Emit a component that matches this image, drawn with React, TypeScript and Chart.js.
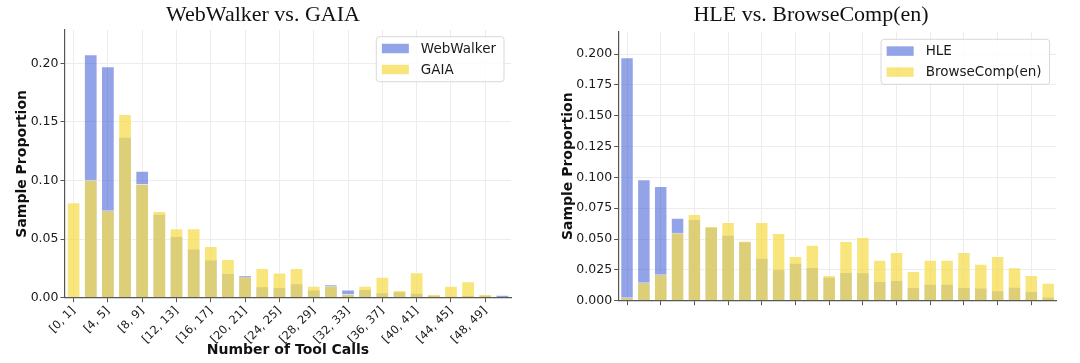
import React, { useEffect, useRef } from 'react';
import { Chart, registerables } from 'chart.js';

Chart.register(...registerables);
Chart.defaults.font.family = "'DejaVu Sans', sans-serif";

// ---- data ----
const binLabels = [
  '[0, 1]', '[2, 3]', '[4, 5]', '[6, 7]', '[8, 9]', '[10, 11]', '[12, 13]', '[14, 15]',
  '[16, 17]', '[18, 19]', '[20, 21]', '[22, 23]', '[24, 25]', '[26, 27]', '[28, 29]',
  '[30, 31]', '[32, 33]', '[34, 35]', '[36, 37]', '[38, 39]', '[40, 41]', '[42, 43]',
  '[44, 45]', '[46, 47]', '[48, 49]', '[50, 51]',
];

const webWalker = [
  0.0, 0.2077, 0.1975, 0.1374, 0.1084, 0.0717, 0.0527, 0.0421, 0.0327, 0.0211,
  0.0194, 0.0097, 0.0091, 0.0123, 0.0071, 0.0114, 0.0071, 0.0074, 0.0046, 0.0055,
  0.0043, 0.0026, 0.0014, 0.0023, 0.0025, 0.0026,
];
const gaia = [
  0.0814, 0.1007, 0.0746, 0.1568, 0.097, 0.074, 0.0592, 0.0592, 0.0441, 0.033,
  0.0182, 0.0253, 0.0215, 0.0253, 0.0102, 0.0102, 0.0032, 0.0102, 0.0179, 0.0066,
  0.0217, 0.0032, 0.0102, 0.014, 0.0032, 0.0,
];

const hle = [
  0.1973, 0.0984, 0.093, 0.0673, 0.0662, 0.06, 0.0535, 0.0481, 0.0349, 0.026,
  0.0308, 0.0273, 0.0195, 0.0233, 0.023, 0.016, 0.0168, 0.0111, 0.0138, 0.0138,
  0.0111, 0.0108, 0.0084, 0.0114, 0.0079, 0.0035,
];
const browseComp = [
  0.0027, 0.0149, 0.0214, 0.0551, 0.0703, 0.0606, 0.0638, 0.0486, 0.0638, 0.0549,
  0.0362, 0.0454, 0.0208, 0.0484, 0.0516, 0.0332, 0.0395, 0.0241, 0.0332, 0.0332,
  0.0395, 0.03, 0.0362, 0.0271, 0.0208, 0.0146,
];

const BLUE = 'rgba(75,102,217,0.6)';
const YELLOW = 'rgba(246,222,82,0.75)';
const EDGE = 'rgba(255,255,255,0.7)';
const GRID = '#ececec';
const AXIS = '#555555';

const insideLegend = {
  id: 'insideLegend',
  afterDatasetsDraw(chart: any, _args: any, opts: any) {
    const { ctx, chartArea } = chart;
    ctx.save();
    ctx.font = '13.5px "DejaVu Sans"';
    const items = chart.data.datasets.map((d: any) => ({ label: d.label, color: d.backgroundColor }));
    const textW = Math.max(...items.map((i: any) => ctx.measureText(i.label).width));
    const padL = 5.6, sw = 27, swH = 9.5, gap = 12, padR = 8;
    const w = padL + sw + gap + textW + padR;
    const h = 45;
    const x = chartArea.right - opts.marginRight - w;
    const y = chartArea.top + opts.marginTop;
    const r = 3;
    ctx.beginPath();
    ctx.moveTo(x + r, y);
    ctx.lineTo(x + w - r, y);
    ctx.arcTo(x + w, y, x + w, y + r, r);
    ctx.lineTo(x + w, y + h - r);
    ctx.arcTo(x + w, y + h, x + w - r, y + h, r);
    ctx.lineTo(x + r, y + h);
    ctx.arcTo(x, y + h, x, y + h - r, r);
    ctx.lineTo(x, y + r);
    ctx.arcTo(x, y, x + r, y, r);
    ctx.closePath();
    ctx.fillStyle = 'rgba(255,255,255,0.85)';
    ctx.fill();
    ctx.strokeStyle = '#d8d8d8';
    ctx.lineWidth = 1;
    ctx.stroke();
    items.forEach((it: any, i: number) => {
      const cy = y + 11.8 + i * 21;
      ctx.fillStyle = it.color;
      ctx.fillRect(x + padL, cy - swH / 2, sw, swH);
      ctx.fillStyle = '#1a1a1a';
      ctx.textBaseline = 'middle';
      ctx.textAlign = 'left';
      ctx.fillText(it.label, x + padL + sw + gap, cy + 0.5);
    });
    ctx.restore();
  },
};

interface PanelSpec {
  title: string;
  nameA: string;
  nameB: string;
  a: number[];
  b: number[];
  labels: string[];
  showXLabels: boolean;
  showXTitle: boolean;
  yMax: number;
  step: number;
  dec: number;
  padL: number;
  padR: number;
  yW: number;
  xH: number;
  titleBottom: number;
  yTitleOffset: number;
  legendTop: number;
}

function makeConfig(p: PanelSpec): any {
  const barCommon = {
    borderColor: EDGE,
    borderWidth: 1,
    grouped: false,
    barPercentage: 0.8,
    categoryPercentage: 1.0,
  };
  return {
    type: 'bar',
    data: {
      labels: p.labels,
      datasets: [
        { label: p.nameA, data: p.a, backgroundColor: BLUE, order: 1, ...barCommon },
        { label: p.nameB, data: p.b, backgroundColor: YELLOW, order: 0, ...barCommon },
      ],
    },
    options: {
      responsive: false,
      animation: false,
      devicePixelRatio: 1,
      layout: { padding: { left: p.padL, right: p.padR, top: 0, bottom: 0 } },
      plugins: {
        legend: { display: false },
        tooltip: { enabled: false },
        title: {
          display: true,
          text: p.title,
          color: '#111111',
          font: { family: "'Liberation Serif', serif", size: 22, weight: 'normal', lineHeight: 1.2 },
          padding: { top: 2.4, bottom: p.titleBottom },
        },
        insideLegend: { marginRight: 7, marginTop: p.legendTop },
      },
      scales: {
        x: {
          type: 'category',
          offset: true,
          grid: { color: GRID, lineWidth: 1, offset: false, tickLength: 4.5, tickColor: AXIS, tickWidth: 1 },
          border: { color: AXIS, width: 1.2 },
          ticks: {
            autoSkip: false,
            minRotation: 45,
            maxRotation: 45,
            padding: 2,
            color: '#1a1a1a',
            font: { size: 11.5 },
            callback: (_v: any, i: number) => (i % 2 === 0 ? (p.showXLabels ? p.labels[i] : '') : null),
          },
          title: {
            display: p.showXTitle,
            text: 'Number of Tool Calls',
            color: '#111111',
            font: { size: 14, weight: 'bold', lineHeight: 1.2 },
            padding: { top: 0, bottom: 4.5 },
          },
          afterFit: (s: any) => {
            s.height = p.xH;
          },
        },
        y: {
          min: 0,
          max: p.yMax,
          grid: { color: GRID, lineWidth: 1, tickLength: 4.5, tickColor: AXIS, tickWidth: 1 },
          border: { color: AXIS, width: 1.2 },
          ticks: {
            stepSize: p.step,
            includeBounds: false,
            padding: 2,
            color: '#1a1a1a',
            font: { size: 12.5 },
            callback: (v: any) => Number(v).toFixed(p.dec),
          },
          title: {
            display: true,
            text: 'Sample Proportion',
            color: '#111111',
            font: { size: 14, weight: 'bold', lineHeight: 1 },
            padding: { top: p.yTitleOffset, bottom: 0 },
          },
          afterFit: (s: any) => {
            s.width = p.yW;
          },
        },
      },
    },
    plugins: [insideLegend],
  };
}

const leftSpec: PanelSpec = {
  title: 'WebWalker vs. GAIA',
  nameA: 'WebWalker',
  nameB: 'GAIA',
  a: webWalker,
  b: gaia,
  labels: binLabels,
  showXLabels: true,
  showXTitle: true,
  yMax: 0.2285,
  step: 0.05,
  dec: 2,
  padL: 15,
  padR: 29,
  yW: 50,
  xH: 65.3,
  titleBottom: 1.2,
  yTitleOffset: 0.3,
  legendTop: 6.7,
};

const rightSpec: PanelSpec = {
  title: 'HLE vs. BrowseComp(en)',
  nameA: 'HLE',
  nameB: 'BrowseComp(en)',
  a: hle,
  b: browseComp,
  labels: binLabels,
  showXLabels: false,
  showXTitle: false,
  yMax: 0.218,
  step: 0.025,
  dec: 3,
  padL: 25.4,
  padR: 23.4,
  yW: 53.2,
  xH: 62.3,
  titleBottom: 3.0,
  yTitleOffset: -4.4,
  legendTop: 7.5,
};

function Panel({ spec, left }: { spec: PanelSpec; left: number }) {
  const ref = useRef<HTMLCanvasElement | null>(null);
  useEffect(() => {
    if (!ref.current) return;
    const chart = new Chart(ref.current, makeConfig(spec));
    return () => chart.destroy();
  }, [spec]);
  return (
    <div style={{ position: 'absolute', left, top: 0, width: 540, height: 363 }}>
      <canvas ref={ref} width={540} height={363} style={{ display: 'block', width: 540, height: 363 }} />
    </div>
  );
}

export default function App() {
  return (
    <div style={{ position: 'absolute', left: 0, top: 0, width: 1080, height: 363, background: '#ffffff', overflow: 'hidden' }}>
      <Panel spec={leftSpec} left={0} />
      <Panel spec={rightSpec} left={540} />
    </div>
  );
}
